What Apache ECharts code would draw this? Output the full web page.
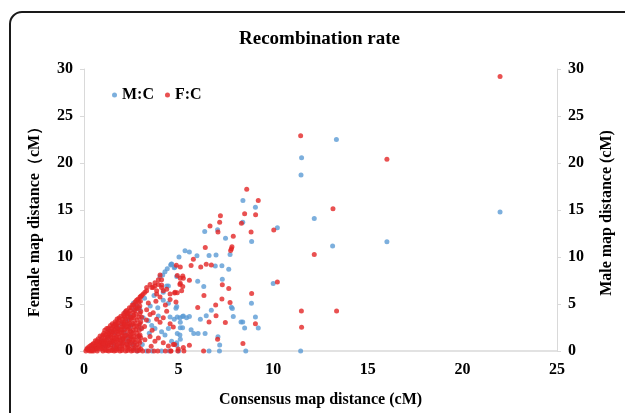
<!DOCTYPE html>
<html>
<head>
<meta charset="utf-8">
<script src="https://cdn.jsdelivr.net/npm/echarts@6/dist/echarts.min.js"></script>
<style>
  html, body { margin: 0; padding: 0; background: #fff; }
  #main { width: 625px; height: 413px; }
</style>
</head>
<body>
<div id="main"></div>
<script>
// chart texts
var titleText = "Recombination rate";
var xName = "Consensus map distance (cM)";
var yLeftName = "Female map distance（cM）";
var yRightName = "Male map distance (cM)";
var seriesNames = ["M:C", "F:C"];

// M:C points [consensus, male]
var mcPoints = [
  // dense part near the origin
  [2.29,3.22],[2.47,3.72],[2.64,4.4],[2.82,4.73],[2.11,2.39],[2.03,1.38],[2.29,1.04],[2.64,0.7],
  [2.91,1.54],[1.76,2.55],[1.5,2.05],[1.23,1.38],[1.59,0.7],[1.06,0.54],[1.76,0.37],[2.64,0.2],
  [3.0,2.39],[3.08,0.7],[2.82,0],[2.17,4.1],[2.34,3.42],[1.99,2.92],[1.81,2.42],[1.64,1.91],
  [2.17,1.91],[2.34,1.41],[2.52,0.74],[1.99,0.74],[1.37,0.91],[1.55,0.4],[1.02,0.57],[0.6,0.3],
  [2.61,5.07],[2.78,4.73],[2.96,4.4],[2.45,2.6],[1.3,2.3],[0.9,1.1],
  // 3 - 5 cM
  [4.58,9.16],[4.40,8.76],[4.28,8.43],[4.16,8.08],[4.02,7.92],[4.63,9.26],[4.81,8.93],[4.46,6.92],
  [4.9,7.92],[4.19,6.24],[4.37,6.92],[4.19,5.41],[4.46,5.07],[4.9,4.73],[5.07,3.55],[5.25,3.72],
  [5.42,3.55],[3.13,3.55],[3.4,3.22],[3.58,2.72],[3.75,2.39],[3.93,3.72],[4.1,2.05],[4.28,1.71],
  [4.46,2.39],[4.63,1.04],[4.9,0.87],[5.07,1.71],[3.3,0],[3.6,0],[4.1,0],[4.5,0],[5.0,0],
  [3.5,4.8],[3.2,5.6],[3.9,4.6],[3.45,1.9],[3.7,5.9],
  // sparse part
  [8.40,16.0],[9.06,15.3],[8.39,13.7],[6.38,12.7],[7.06,12.9],[10.22,13.1],[7.48,12.0],[8.86,11.65],
  [5.34,10.67],[5.57,10.54],[5.02,10.0],[5.97,10.14],[6.61,10.17],[6.98,10.2],[7.72,10.27],[4.62,9.23],
  [4.77,8.86],[6.94,9.03],[7.29,9.06],[7.65,8.69],[6.01,7.42],[7.31,7.62],[6.33,6.85],[8.85,5.07],
  [4.86,4.56],[7.79,4.66],[7.84,4.53],[6.73,4.33],[4.55,3.62],[4.77,3.39],[4.93,3.62],[5.21,3.66],
  [5.57,3.66],[6.15,3.39],[6.46,3.76],[7.89,3.66],[9.06,3.62],[8.30,3.09],[8.39,3.09],[8.49,2.45],
  [9.21,2.45],[5.09,3.05],[5.09,2.48],[5.21,2.48],[5.66,2.25],[5.80,1.85],[6.03,1.85],[6.40,1.85],
  [4.93,1.85],[5.09,1.24],[7.08,1.51],[7.17,0.64],[4.90,0.6],[6.61,0],[7.16,0],[8.55,0],[11.45,0],
  [13.34,22.5],[11.5,20.57],[11.47,18.73],[12.17,14.1],[13.14,11.17],[10.0,7.18],[21.99,14.8],[16.01,11.61]
];

// F:C points [consensus, female]
var fcPoints = [
  // dense part near the origin
  [0.1,0],[0.15,0.2],[0.25,0.1],[0.3,0.5],[0.2,0.35],[0.3,0],
  [0.4,0],[0.45,0.4],[0.5,0.8],[0.55,0.2],[0.6,1.1],[0.6,0.6],[0.5,0],
  [0.7,0],[0.7,0.4],[0.75,1.3],[0.8,0.9],[0.85,1.6],[0.9,0.2],[0.9,1.2],[0.8,0.6],
  [1.0,0],[1.0,0.5],[1.0,1.0],[1.05,1.9],[1.1,1.5],[1.1,2.2],[1.2,0.3],[1.2,0.8],[1.15,1.2],[1.2,2.4],
  [1.3,0],[1.3,0.6],[1.3,1.6],[1.35,2.1],[1.4,2.7],[1.4,1.1],[1.45,0.3],[1.5,1.9],[1.5,2.9],[1.5,0.9],[1.45,2.4],
  [1.6,0],[1.6,0.5],[1.6,1.4],[1.6,2.2],[1.65,3.1],[1.7,1.0],[1.7,2.6],[1.75,3.4],[1.8,0.2],[1.8,1.8],[1.8,3.0],[1.75,0.7],
  [1.9,0],[1.9,1.2],[1.9,2.3],[1.95,3.7],[2.0,0.5],[2.0,1.6],[2.0,2.9],[2.05,3.4],[2.1,4.0],[2.1,0.9],[2.1,2.0],[2.1,2.6],
  [2.2,0],[2.2,1.3],[2.2,3.1],[2.25,4.3],[2.3,0.6],[2.3,2.3],[2.3,3.7],[2.35,1.8],[2.4,4.6],[2.4,2.9],[2.4,0.2],[2.4,1.0],
  [2.5,0],[2.5,1.5],[2.5,3.3],[2.55,4.9],[2.6,2.2],[2.6,4.1],[2.6,0.7],[2.7,5.2],[2.7,3.0],[2.7,1.2],[2.65,2.6],
  [2.8,0],[2.8,4.5],[2.8,1.9],[2.85,5.5],[2.9,3.6],[2.9,0.4],[2.9,2.7],[3.0,5.8],[3.0,1.4],[3.0,4.2],[3.0,3.1],
  [0.35,0.25],[0.38,0.6],[0.55,0.5],[0.65,0.9],[0.62,0.25],
  [0.85,0.4],[0.88,0.85],[0.95,1.5],[0.95,0.65],
  [1.12,0.1],[1.15,0.55],[1.1,1.0],[1.15,1.75],[1.25,2.0],[1.25,1.45],
  [1.42,0.65],[1.48,1.4],[1.4,1.75],[1.55,2.3],[1.55,2.65],[1.55,1.15],[1.5,0.1],
  [1.72,0.25],[1.78,1.2],[1.72,1.55],[1.78,2.15],[1.72,2.9],[1.85,2.6],[1.85,3.3],[1.88,0.8],[1.85,1.5],
  [2.02,0.2],[2.05,1.25],[2.0,2.25],[2.05,2.6],[2.02,3.1],[2.15,3.6],[2.15,1.6],[2.15,0.45],[2.1,3.0],
  [2.32,0.35],[2.35,1.05],[2.35,2.6],[2.3,2.9],[2.35,4.1],[2.45,3.6],[2.45,4.3],[2.45,2.1],[2.45,1.3],[2.28,4.0],
  [2.62,0.3],[2.62,1.6],[2.65,3.5],[2.62,3.8],[2.72,4.6],[2.75,2.3],[2.7,0.9],[2.62,4.9],[2.75,3.9],
  [2.95,0.9],[2.92,2.2],[2.95,4.8],[2.98,5.3],[3.05,3.6],[3.05,2.4],[2.92,1.1],
  [0.2,0.15],[0.45,0.1],[0.45,0.7],[0.7,0.2],[0.75,0.75],[0.7,1.1],
  [0.95,0.3],[0.95,1.05],[1.0,1.7],[1.05,0.8],
  [1.2,0.05],[1.25,0.55],[1.2,1.1],[1.3,1.85],[1.3,2.45],[1.35,0.85],
  [1.45,0.05],[1.45,1.05],[1.4,1.45],[1.45,2.05],[1.6,2.75],[1.6,1.75],[1.6,0.95],
  [1.7,0.05],[1.7,0.5],[1.7,1.3],[1.7,2.05],[1.75,2.4],[1.65,2.9],[1.85,3.5],[1.9,2.0],[1.9,0.5],[1.95,1.0],
  [2.0,0.05],[2.05,0.85],[2.1,1.4],[2.0,1.95],[2.15,2.3],[2.15,2.8],[2.2,3.4],[2.1,3.8],[2.2,4.2],[2.25,0.75],[2.25,1.7],[2.25,2.6],
  [2.3,0.05],[2.4,0.5],[2.4,1.6],[2.4,2.4],[2.4,3.3],[2.35,3.9],[2.5,4.6],[2.5,2.8],[2.5,0.9],[2.5,2.0],
  [2.6,0.05],[2.6,1.2],[2.6,1.9],[2.6,2.9],[2.55,3.6],[2.7,4.3],[2.75,5.0],[2.7,0.4],[2.8,1.5],[2.8,2.6],[2.8,3.3],[2.8,0.7],
  [2.9,0.05],[2.9,1.6],[2.95,2.9],[2.95,4.0],[2.9,4.6],[3.0,0.2],[2.9,5.2],
  // 3 - 5 cM
  [3.49,7.08],[3.58,6.75],[3.75,6.92],[3.93,7.08],[4.1,7.02],[3.31,6.41],[3.13,6.07],[2.96,5.74],[2.78,5.41],
  [3.84,6.07],[4.02,5.74],[4.19,6.41],[4.37,6.58],[4.55,6.07],[4.81,6.24],[5.07,7.08],[5.25,7.75],[5.16,6.41],
  [3.31,4.4],[3.49,3.89],[3.66,4.06],[3.84,3.39],[4.02,3.05],[4.19,3.55],[4.37,4.23],[4.55,2.89],[4.72,2.55],
  [2.96,1.71],[3.22,1.21],[3.49,1.54],[3.75,1.04],[3.93,1.38],[4.19,0.87],[4.46,0.54],[4.72,0.7],[4.98,0.2],[5.25,0.37],
  [4.02,8.09],[3.93,7.58],[3.75,7.25],[3.31,6.75],[3.66,6.75],[3.84,6.41],[4.1,6.75],[3.22,6.24],[3.05,5.91],[4.1,7.58],
  [3.1,0],[3.4,0],[3.7,0],[3.9,0],[4.3,0],[4.6,0],[3.2,2.6],[3.4,5.1],[3.6,2.2],[3.3,3.3],[3.8,5.3],[4.3,4.9],[3.55,0.5],
  // sparse part
  [8.60,17.2],[9.21,16.0],[8.49,14.6],[9.07,14.5],[7.21,14.4],[7.17,13.7],[8.32,13.6],[6.66,13.3],
  [7.08,12.65],[8.83,12.65],[10.03,12.86],[7.89,12.2],[6.41,11.0],[7.82,11.1],[7.79,10.87],[7.75,10.7],
  [5.78,9.77],[4.88,9.13],[5.09,8.93],[5.66,9.1],[6.17,8.93],[6.46,9.23],[6.73,9.16],[4.93,8.02],
  [5.09,7.75],[5.22,7.98],[5.09,7.22],[5.22,6.85],[5.57,7.52],[7.31,7.05],[7.65,6.65],[4.79,6.17],
  [4.93,6.21],[6.34,5.91],[8.86,6.11],[7.29,5.54],[4.55,5.47],[4.86,5.2],[7.72,5.17],[6.96,4.9],
  [6.01,4.63],[6.98,3.76],[6.61,3.09],[7.47,3.02],[9.06,2.89],[7.06,1.24],[8.40,0.81],[4.79,0.70],
  [5.57,0.6],[4.58,0],[4.96,0],[5.28,0],[6.32,0],
  [11.45,22.9],[13.16,15.13],[12.17,10.27],[10.22,7.35],[11.49,4.26],[13.35,4.26],[11.5,2.52],
  [21.99,29.2],[16.01,20.4]
];

var blueColor = "#5B9BD5";
var redColor = "#E32626";
var serif = "'Liberation Serif', 'DejaVu Serif', serif";

var myChart = echarts.init(document.getElementById("main"));

var labelStyle = {
  color: "#000",
  fontFamily: serif,
  fontWeight: "bold",
  fontSize: 16,
};

function yAxisFor(name, pos) {
  var axis = {
    type: "value",
    position: pos,
    min: 0,
    max: 30,
    interval: 5,
    name: name,
    nameLocation: "middle",
    nameGap: pos == "left" ? 41 : 42,
    nameTextStyle: {
      color: "#000",
      fontFamily: serif,
      fontWeight: "bold",
      fontSize: 16,
      // nudge the rotated names down a little
      padding: pos == "left" ? [0, 16, 0, 0] : [0, 6, 0, 0],
    },
    axisLine: { show: true, lineStyle: { color: "#d9d9d9", width: 1 } },
    axisTick: { show: true, length: 4, lineStyle: { color: "#d9d9d9" } },
    axisLabel: Object.assign({ margin: 11 }, labelStyle),
    splitLine: { show: false },
  };
  if (pos == "left") axis.nameRotate = 90;
  return axis;
}

var option = {
  animation: false,
  title: {
    text: titleText,
    left: 234,
    top: 25,
    textStyle: {
      color: "#000",
      fontFamily: serif,
      fontWeight: "bold",
      fontSize: 19,
    },
  },
  legend: {
    left: 107,
    top: 82,
    icon: "circle",
    itemWidth: 5,
    itemHeight: 5,
    itemGap: 11,
    textStyle: labelStyle,
    data: seriesNames,
  },
  grid: {
    left: 84,
    right: 68,
    top: 69,
    bottom: 46,
  },
  xAxis: {
    type: "value",
    min: 0,
    max: 25,
    interval: 5,
    name: xName,
    nameLocation: "middle",
    nameGap: 41,
    nameTextStyle: {
      color: "#000",
      fontFamily: serif,
      fontWeight: "bold",
      fontSize: 16,
    },
    axisLine: { show: true, lineStyle: { color: "#d9d9d9", width: 1.5 } },
    axisTick: { show: false },
    axisLabel: Object.assign({ margin: 11 }, labelStyle),
    splitLine: { show: false },
  },
  yAxis: [yAxisFor(yLeftName, "left"), yAxisFor(yRightName, "right")],
  graphic: [
    {
      type: "rect",
      shape: { x: 10, y: 12, width: 640, height: 440, r: 12 },
      style: { fill: "none", stroke: "#1a1a1a", lineWidth: 2 },
      z: 100,
      silent: true,
    },
  ],
  series: [
    {
      name: seriesNames[0],
      type: "scatter",
      yAxisIndex: 1,
      data: mcPoints,
      symbolSize: 5,
      itemStyle: { color: blueColor },
    },
    {
      name: seriesNames[1],
      type: "scatter",
      yAxisIndex: 0,
      data: fcPoints,
      symbolSize: 5,
      itemStyle: { color: redColor },
    },
  ],
};

myChart.setOption(option);
</script>
</body>
</html>
